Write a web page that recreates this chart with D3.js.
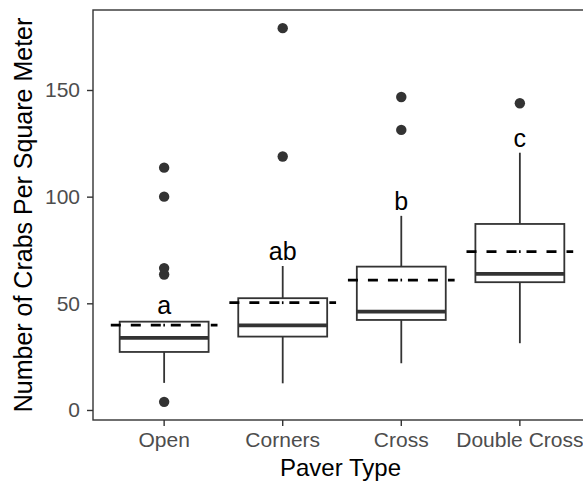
<!DOCTYPE html>
<html>
<head>
<meta charset="utf-8">
<script src="https://cdn.jsdelivr.net/npm/d3@7"></script>
<style>
  body { margin: 0; background: #fff; }
  text { font-family: "Liberation Sans", Arial, sans-serif; }
</style>
</head>
<body>
<div id="chart"></div>
<script>
// paver types on the x axis
var categories = ["Open", "Corners", "Cross", "Double Cross"];
// box stats (crabs per square meter)
var whiskerLow = [12.7, 12.5, 21.9, 31.3];
var q1 = [27.2, 34.4, 42.2, 59.9];
var medians = [33.8, 39.7, 46.1, 63.8];
var q3 = [41.4, 52.4, 67.2, 87.2];
var whiskerHigh = [41.6, 67.5, 91, 120.6];
var means = [39.8, 50.3, 60.9, 74.2];
// outliers per category
var outliers = [
    [3.8, 63.5, 66.5, 100, 113.6],
    [118.8, 179],
    [131.3, 146.7],
    [143.8]
];
// significance letters and their baseline heights
var letters = ["a", "ab", "b", "c"];
var letterY = [45, 70.3, 93.8, 123.4];
var yTicks = [0, 50, 100, 150];

var data = categories.map(function(c, i) {
    return {
        cat: c,
        lo: whiskerLow[i],
        q1: q1[i],
        med: medians[i],
        q3: q3[i],
        hi: whiskerHigh[i],
        mean: means[i],
        out: outliers[i],
        letter: letters[i],
        ly: letterY[i]
    };
});

var margin = { top: 10, right: -8, bottom: 62, left: 93 },
    width = 583 - margin.left - margin.right,
    height = 482 - margin.top - margin.bottom;

var svg = d3.select("#chart")
    .append("svg")
    .attr("width", 583)
    .attr("height", 482)
    .append("g")
    .attr("transform", "translate(" + margin.left + "," + margin.top + ")");

var x = d3.scaleBand()
    .domain(categories)
    .range([0, width])
    .paddingInner(0)
    .paddingOuter(0.1);

var y = d3.scaleLinear()
    .domain([-4.7, 187.5])
    .range([height, 0]);

var step = x.step();
var boxW = step * 0.75;
var meanW = step * 0.9;
var cx = function(d) { return x(d.cat) + x.bandwidth() / 2; };
var dark = "#333333";

// axes
var xAxis = svg.append("g")
    .attr("transform", "translate(0," + height + ")")
    .call(d3.axisBottom(x).tickSize(6).tickPadding(6));
var yAxis = svg.append("g")
    .call(d3.axisLeft(y).tickValues(yTicks).tickSize(6).tickPadding(7));
[xAxis, yAxis].forEach(function(a) {
    a.select(".domain").remove();
    a.selectAll(".tick line").attr("stroke", dark).attr("stroke-width", 1.4);
    a.selectAll(".tick text")
        .attr("fill", "#4d4d4d")
        .style("font-size", "21px")
        .style("font-family", "Liberation Sans, Arial, sans-serif");
});

// panel border
svg.append("rect")
    .attr("x", 0)
    .attr("y", 0)
    .attr("width", width)
    .attr("height", height)
    .attr("fill", "none")
    .attr("stroke", dark)
    .attr("stroke-width", 1.4);

var g = svg.selectAll(".box")
    .data(data)
    .enter()
    .append("g")
    .attr("class", "box");

// whiskers
g.append("line")
    .attr("x1", cx).attr("x2", cx)
    .attr("y1", function(d) { return y(d.hi); })
    .attr("y2", function(d) { return y(d.q3); })
    .attr("stroke", dark).attr("stroke-width", 1.8);
g.append("line")
    .attr("x1", cx).attr("x2", cx)
    .attr("y1", function(d) { return y(d.q1); })
    .attr("y2", function(d) { return y(d.lo); })
    .attr("stroke", dark).attr("stroke-width", 1.8);

// boxes
g.append("rect")
    .attr("x", function(d) { return cx(d) - boxW / 2; })
    .attr("y", function(d) { return y(d.q3); })
    .attr("width", boxW)
    .attr("height", function(d) { return y(d.q1) - y(d.q3); })
    .attr("fill", "#fff")
    .attr("stroke", dark)
    .attr("stroke-width", 1.8);

// medians
g.append("line")
    .attr("x1", function(d) { return cx(d) - boxW / 2; })
    .attr("x2", function(d) { return cx(d) + boxW / 2; })
    .attr("y1", function(d) { return y(d.med); })
    .attr("y2", function(d) { return y(d.med); })
    .attr("stroke", dark).attr("stroke-width", 3.8);

// outliers
g.selectAll("circle")
    .data(function(d) { return d.out.map(function(v) { return { cat: d.cat, v: v }; }); })
    .enter()
    .append("circle")
    .attr("cx", cx)
    .attr("cy", function(d) { return y(d.v); })
    .attr("r", 5.2)
    .attr("fill", dark);

// mean lines (dashed)
g.append("line")
    .attr("x1", function(d) { return cx(d) - meanW / 2; })
    .attr("x2", function(d) { return cx(d) + meanW / 2; })
    .attr("y1", function(d) { return y(d.mean); })
    .attr("y2", function(d) { return y(d.mean); })
    .attr("stroke", "#000")
    .attr("stroke-width", 2.8)
    .attr("stroke-dasharray", "10,10");
g.append("line")
    .attr("x1", function(d) { return cx(d) - 0.8; })
    .attr("x2", function(d) { return cx(d) + 0.8; })
    .attr("y1", function(d) { return y(d.mean); })
    .attr("y2", function(d) { return y(d.mean); })
    .attr("stroke", "#000")
    .attr("stroke-width", 2.8);

// letters
g.append("text")
    .attr("x", cx)
    .attr("y", function(d) { return y(d.ly); })
    .attr("text-anchor", "middle")
    .style("font-size", "25px")
    .attr("fill", "#000")
    .text(function(d) { return d.letter; });

// axis titles
svg.append("text")
    .attr("x", width / 2 - 1.5)
    .attr("y", height + 55.5)
    .attr("text-anchor", "middle")
    .style("font-size", "24px")
    .text("Paver Type");

svg.append("text")
    .attr("transform", "translate(" + (-61) + "," + (height / 2) + ") rotate(-90)")
    .attr("text-anchor", "middle")
    .style("font-size", "25px")
    .text("Number of Crabs Per Square Meter");
</script>
</body>
</html>
